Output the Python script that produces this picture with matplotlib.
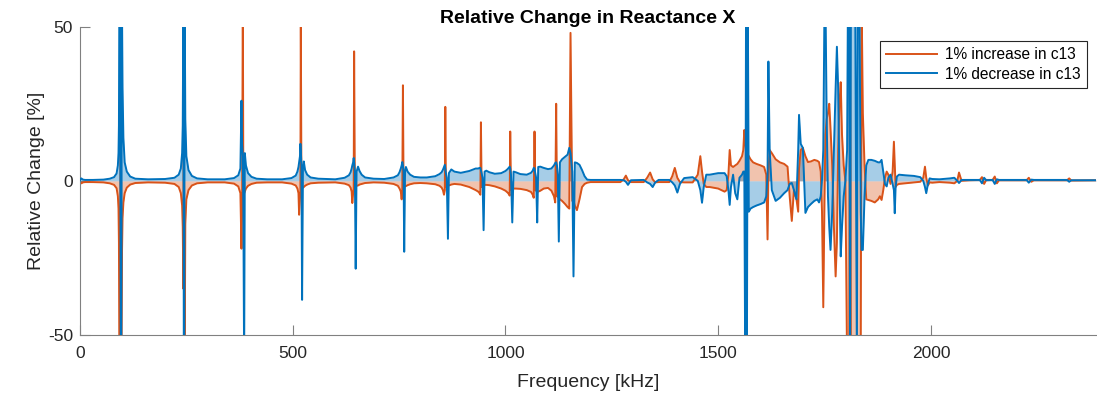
import numpy as np
import matplotlib
matplotlib.use("Agg")
import matplotlib.pyplot as plt

plt.rcParams['font.family'] = ['Liberation Sans', 'DejaVu Sans']
plt.rcParams['axes.unicode_minus'] = False

# frequency grid [kHz], one line per resonance / region
freq_khz = [
    0, 3, 7, 12, 30, 55, 70, 80,
    86, 89, 90.5, 91.5, 92.5, 94, 96, 97, 98.5, 100, 102, 105, 110, 118, 130, 160,
    200, 222, 232, 237, 240, 241.5, 243, 244, 245, 246, 247.5, 250, 255, 263, 275, 300,
    340, 362, 372, 377, 379.5, 381, 382.7, 384, 385.8, 387.4, 390, 395, 403, 415, 440,
    475, 497, 507, 511, 513.5, 515, 517, 518, 519, 520.5, 522, 524, 526, 529, 534, 542, 560,
    600, 622, 632, 636, 638.5, 640, 642, 643.3, 644.3, 646, 648, 650, 653.5, 657, 662, 670, 690,
    715, 737, 747, 751, 754, 756, 757.5, 759, 760.5, 762, 764, 766, 770, 776, 785, 800,
    815, 835, 845, 850, 853, 855.5, 857.5, 858.6, 860, 862, 864.8, 867, 872.7, 880, 895, 915, 930,
    936, 939, 941, 942.3, 944, 946, 948.6, 951, 955, 962, 975, 990, 1000,
    1005, 1008, 1010, 1011.2, 1013, 1016, 1019, 1024, 1035, 1050, 1060,
    1064, 1066.5, 1068.3, 1070, 1072, 1074.6, 1077, 1082, 1090, 1100, 1108, 1114,
    1117, 1119.2, 1121, 1123, 1125.4, 1128, 1133, 1140, 1146,
    1150, 1152.9, 1155, 1157, 1159.9, 1163, 1168, 1174, 1180, 1186, 1192, 1200,
    1270, 1278, 1283, 1288, 1295, 1325, 1333, 1340, 1346, 1352, 1360, 1385, 1392, 1398, 1404,
    1410, 1420, 1440, 1452, 1458, 1462, 1466, 1472,
    1480, 1500, 1515, 1520, 1524, 1527, 1530, 1535, 1540, 1545, 1550, 1556, 1559,
    1561.4, 1563.5, 1565.5, 1567.5, 1569.5, 1572, 1576, 1582, 1590, 1600, 1608, 1613, 1616, 1618,
    1621, 1626, 1635, 1645, 1655, 1663, 1668, 1673, 1678, 1684, 1688, 1690, 1694,
    1699, 1705, 1711, 1718, 1726, 1733, 1737, 1741, 1744,
    1747, 1750, 1752, 1755, 1758, 1761, 1764, 1768, 1772, 1776, 1779, 1782, 1785, 1788, 1791, 1795, 1799,
    1803, 1805, 1808, 1810, 1812, 1816, 1822, 1826, 1828, 1832, 1835, 1837, 1840, 1844,
    1848, 1853, 1860, 1868, 1876, 1880,
    1884, 1888, 1892, 1896, 1900, 1905, 1910, 1913, 1915, 1917, 1920, 1925, 1940, 1960, 1975, 1982,
    1986, 1989, 1993, 1997, 2003, 2020, 2045, 2055, 2062, 2066, 2072, 2090, 2115, 2120, 2125, 2130,
    2145, 2150, 2155, 2160, 2225, 2230, 2236, 2242, 2320, 2325, 2330, 2388,
]

# relative change [%] for +1% c13
inc_pct = [
    -0.2, -0.8, -0.5, -0.4, -0.4, -0.5, -0.8, -1.3,
    -2.4, -5, -9, -20, -60, -60, 60, -60, -25, -12, -7, -4, -2.2, -1.2, -0.7, -0.5,
    -0.6, -1.0, -2, -4, -8, -15, -35, 60, -60, -60, -14, -6, -3, -1.5, -0.8, -0.5,
    -0.5, -0.9, -1.8, -4, -22, -10, 60, -6, -4, -3.5, -2.5, -1.6, -1, -0.6, -0.5,
    -0.5, -0.9, -1.5, -2.5, -4, -11, -6, -3, 52, -3, -2.5, -2.2, -2, -1.6, -1.2, -0.8, -0.6,
    -0.5, -0.9, -1.4, -2.2, -3.5, -7.2, -4, -2.5, 42, -2, -1.8, -1.6, -1.5, -1.2, -1, -0.7, -0.5,
    -0.6, -1.0, -1.6, -2.5, -3.5, -6, -3, 31, -2, -2, -1.8, -1.7, -1.4, -1.1, -0.8, -0.7,
    -0.8, -1.1, -1.6, -2.2, -3, -4.5, -3, 24, -2, -1.8, -1.6, -1.5, -1.2, -1, -1.2, -2, -3,
    -3.5, -4, -4.5, 19, -2, -1.5, -1.4, -1.3, -1.3, -1.4, -1.8, -2.5, -3.2,
    -3.8, -4.3, -4.8, 16, -2.8, -2.6, -2.5, -2.5, -2.6, -3, -3.6,
    -4.5, -5.5, 16, -3, -3.2, -3.4, -3.5, -3.2, -2.5, -2.3, -3.2, -5,
    -7, 25, -5, -5.2, -5.5, -6, -6.5, -7.5, -8.5,
    -9, 48, 20, -6.5, -6.5, -8, -9.5, -6, -2, -1, -0.6, -0.4,
    -0.4, 0.5, 1.7, 0.2, -0.4, -0.4, 1, 2.7, 0.5, -0.5, -0.4, -0.4, 1.5, 4.2, 1,
    -0.4, -0.5, -0.5, 2, 8, 3, -1, -2,
    -2, -2.5, -3.5, -3, 2, 10, 5, 4.5, 5, 5.5, 6.5, 8, 10,
    16.5, 12, 10, 9, 8.5, 8, 7, 6, 5.5, 5, 4.5, 2, -19, 2,
    10, 9, 7, 6, 5.5, 4.6, -5, -13, -3, -6, -10, 4, 10,
    10.7, 8, 6.1, 6.3, 6.8, 6.5, 6.1, 3, -10,
    -41, -5, 15, 20, 22, 25, 17, 5, -15, -31, -20, 10, 25, 32, 15, 5, 0,
    -60, -60, -60, 60, -60, -60, -60, -60, -60, -60, -60, 60, 22, 5,
    -6, -6.2, -6.5, -7, -6, -5,
    -6.2, -3, 1, 3, 2, -1, 3, 12.7, 5, -2, -1.3, -1, -0.8, -0.5, -0.3, 1,
    4.6, 1, -1.5, -0.5, -0.6, -0.4, -0.6, -0.8, 0, 2.7, 0, 0.2, 0.3, 1.2, -1, 0.3,
    0.3, 1.4, -0.8, 0.2, 0.2, 1, -0.3, 0.2, 0.2, 0.8, 0.1, 0.2,
]

# relative change [%] for -1% c13
dec_pct = [
    0.2, 0.8, 0.4, 0.3, 0.3, 0.4, 0.7, 1.2,
    2.4, 5, 9, 18, 60, 60, -60, -60, 60, 30, 14, 6, 3, 1.4, 0.7, 0.5,
    0.6, 1.0, 2, 4, 9, 18, 60, -60, -60, 60, 20, 8, 3.5, 1.6, 0.8, 0.5,
    0.5, 0.9, 1.8, 4, 26, 12, 8, -10, -60, 9, 5, 2.5, 1.3, 0.7, 0.5,
    0.5, 0.9, 1.7, 3, 4.5, 6, 8, 12, 10, 5, -38.6, 4, 6.3, 3.5, 2, 1.1, 0.7,
    0.5, 1.0, 1.8, 2.8, 4, 5, 6, 7.4, 6, 3, -28.5, 3, 4.6, 3.2, 2, 1.1, 0.7,
    0.6, 1.1, 1.8, 2.8, 4, 5, 6.1, 5, 3, -23, 3, 4.5, 3, 2, 1.3, 1.1,
    1.1, 1.5, 2.2, 2.8, 3.6, 4.5, 5.2, 4, 2.5, 1, -18.8, 2.5, 3.7, 3, 2.6, 3.2, 4,
    4, 4.2, 4.2, 3.5, 2.5, 1, -16, 3, 3.3, 2.8, 2.3, 2.5, 3.2,
    3.8, 4.3, 4.6, 4, 2, -13.5, 3, 2.8, 2.2, 2, 2.6,
    3.3, 4.2, 4, 2.5, 1, -13.5, 4.5, 4.6, 4.2, 3.8, 4, 5,
    5.8, 6, 5, 2, -19.7, 6, 7, 7.8, 8.5,
    10.7, 9, 6, 3, -31, 6, 5.8, 5.2, 3.5, 1.5, 0.4, 0.3,
    0.3, 0.2, -0.3, -1.3, 0.2, 0.3, -0.5, -1, -2, -0.5, 0.3, 0.3, -0.5, -1.5, -3.8,
    -1, 0.9, 1.2, 0, -3, -7.1, -2, 2,
    2, 2.5, 2.5, 1.5, -3, -7.8, -2, 2, -4, -6, 1, 2, 3,
    3, -60, 60, -60, 60, -10, -9, -8.5, -8, -7.5, -7, -5, 2, 38.7,
    10, -3, -6.5, -5.5, -4, -3, -1, -0.7, -3, -6, 10, 21.4, 12,
    10.7, -10.4, -8.5, -7.5, -6.5, -6, -7, -5, 0.3,
    10, 60, 60, 20, -5, -15, -22.4, -10, 10, 30, 43.5, 30, 0, -24.5, -15, -5, 0,
    10, 60, 60, -60, 60, 60, 60, -60, 60, 60, -10, -22.4, -22.4, -5,
    5, 6.8, 6.8, 6.5, 6, 6,
    6.8, 3, -1, -1.8, 1, 2, -1, -3, -10.5, -2, 1.4, 2, 1.8, 1.6, 1.2, 0,
    -2, -4, -1, 0.8, 0.6, 0.5, 0.8, 1, 0, -0.7, 0.3, 0.3, 0.3, -0.8, 1, 0.2,
    0.3, -1, 0.5, 0.3, 0.3, -0.6, 0.4, 0.3, 0.3, -0.3, 0.2, 0.2,
]

assert len(freq_khz) == len(inc_pct) == len(dec_pct)

f = np.array(freq_khz)
inc = np.array(inc_pct)
dec = np.array(dec_pct)

c_inc = '#D95319'
c_dec = '#0072BD'

fig = plt.figure(figsize=(10.97, 4.05), dpi=100)
ax = fig.add_axes([80/1097, 70/405, 1016/1097, 308.3/405])

ax.fill_between(f, inc, 0, color=c_inc, alpha=0.35, lw=0, zorder=1)
ax.fill_between(f, dec, 0, color=c_dec, alpha=0.35, lw=0, zorder=1)
ax.plot(f, inc, color=c_inc, lw=1.4, label='1% increase in c13', zorder=2)
ax.plot(f, dec, color=c_dec, lw=1.4, label='1% decrease in c13', zorder=3)

ax.set_xlim(0, 2388)
ax.set_ylim(-50, 50)
ax.set_xticks([0, 500, 1000, 1500, 2000])
ax.set_yticks([-50, 0, 50])

for s in ['top', 'right']:
    ax.spines[s].set_visible(False)
for s in ['left', 'bottom']:
    ax.spines[s].set_color('#808080')
    ax.spines[s].set_linewidth(0.8)
ax.tick_params(direction='in', length=7.2, width=0.8, color='#808080',
               labelsize=12.5, labelcolor='#262626')
ax.tick_params(axis='x', pad=8)
ax.tick_params(axis='y', pad=5)

ax.set_title('Relative Change in Reactance X', fontsize=14, fontweight='bold', pad=3)
ax.set_xlabel('Frequency [kHz]', fontsize=14, color='#262626', labelpad=9)
ax.set_ylabel('Relative Change [%]', fontsize=14, color='#262626', labelpad=2)

leg = ax.legend(loc='upper right', bbox_to_anchor=(0.991, 0.954), borderaxespad=0,
                fontsize=11.2, handlelength=3.3, fancybox=False, framealpha=1,
                edgecolor='#262626', borderpad=0.4, labelspacing=0.3, handletextpad=0.5)
leg.get_frame().set_linewidth(0.8)

fig.savefig('out.png', dpi=100)
